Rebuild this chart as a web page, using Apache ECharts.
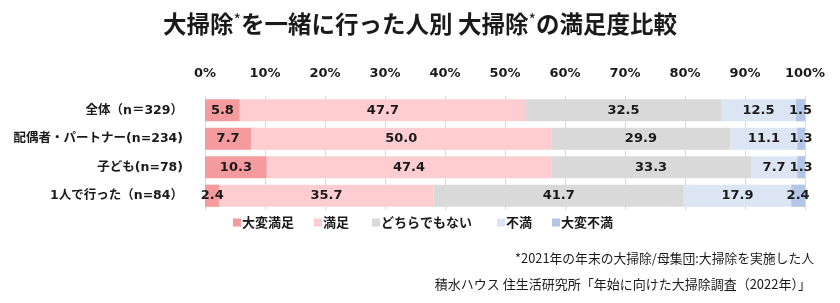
<!DOCTYPE html>
<html><head><meta charset="utf-8">
<script src="https://cdn.jsdelivr.net/npm/echarts@6/dist/echarts.min.js"></script>
<style>html,body{margin:0;padding:0;background:#fff}#c{width:840px;height:303px}</style>
</head><body><div id="c"></div>
<script>
const categories = ['全体（n＝329）', '配偶者・パートナー(n=234)', '子ども(n=78)', '1人で行った（n=84）'];
const seriesNames = ['大変満足', '満足', 'どちらでもない', '不満', '大変不満'];
const veryStatisfied = [5.8, 7.7, 10.3, 2.4];
const satisfied = [47.7, 50.0, 47.4, 35.7];
const neutral = [32.5, 29.9, 33.3, 41.7];
const dissatisfied = [12.5, 11.1, 7.7, 17.9];
const veryDissatisfied = [1.5, 1.3, 1.3, 2.4];
const xTicks = [0, 10, 20, 30, 40, 50, 60, 70, 80, 90, 100];
const colors = ['#F59A9D', '#FDCDD0', '#D9D9D9', '#DCE5F4', '#B4C6E7'];
const values = [veryStatisfied, satisfied, neutral, dissatisfied, veryDissatisfied];
const legendLefts = [233, 314, 372, 497, 552];

const numFont = 'DejaVu Sans, Noto Sans CJK JP, sans-serif';
const jpFont = 'Noto Sans CJK JP, sans-serif';

const chart = echarts.init(document.getElementById('c'));
chart.setOption({
  animation: false,
  backgroundColor: '#fff',
  title: [{
    text: '{a|大掃除}{s|*}{a|を一緒に行った人別 大掃除}{s|*}{a|の満足度比較}',
    left: 'center', top: 7,
    textStyle: { rich: {
      a: { fontFamily: jpFont, fontWeight: 'bold', fontSize: 23.5, color: '#1a1a1a' },
      s: { fontFamily: jpFont, fontWeight: 'normal', fontSize: 16, color: '#1a1a1a', verticalAlign: 'top', padding: [0, 0, 4, 0] }
    } }
  }, {
    text: '*2021年の年末の大掃除/母集団:大掃除を実施した人',
    right: 21, top: 247,
    textStyle: { fontFamily: jpFont, fontWeight: 'normal', fontSize: 12.8, color: '#1a1a1a' }
  }, {
    text: '積水ハウス 住生活研究所「年始に向けた大掃除調査（2022年）」',
    right: 24, top: 273,
    textStyle: { fontFamily: jpFont, fontWeight: 'normal', fontSize: 13, color: '#1a1a1a' }
  }],
  legend: seriesNames.map((n, i) => ({
    left: legendLefts[i], top: 216, padding: 0,
    itemWidth: 8, itemHeight: 8,
    icon: 'rect',
    textStyle: { fontFamily: jpFont, fontWeight: 'bold', fontSize: 13, color: '#1a1a1a', padding: [0, 0, 0, -4] },
    data: [n]
  })),
  grid: { left: 205, right: 35, top: 96, bottom: 93 },
  xAxis: {
    type: 'value', position: 'top', min: 0, max: 100, interval: 10,
    axisLine: { show: false }, axisTick: { show: false },
    splitLine: { show: true, lineStyle: { color: '#D9D9D9', width: 1 } },
    axisLabel: { formatter: v => xTicks.includes(v) ? v + '%' : '', fontFamily: numFont, fontWeight: 'bold', fontSize: 13, color: '#1a1a1a', margin: 16 }
  },
  yAxis: {
    type: 'category', inverse: true, data: categories,
    axisLine: { show: false }, axisTick: { show: false },
    axisLabel: { fontFamily: numFont, fontWeight: 'bold', fontSize: 12.5, color: '#1a1a1a', margin: 22 }
  },
  series: seriesNames.map((n, i) => ({
    name: n, type: 'bar', stack: 'all', data: values[i],
    barCategoryGap: '22%',
    itemStyle: { color: colors[i] },
    label: { show: true, position: 'inside', formatter: p => p.value.toFixed(1),
      fontFamily: numFont, fontWeight: 'bold', fontSize: 13, color: '#1a1a1a' }
  }))
});
</script></body></html>
